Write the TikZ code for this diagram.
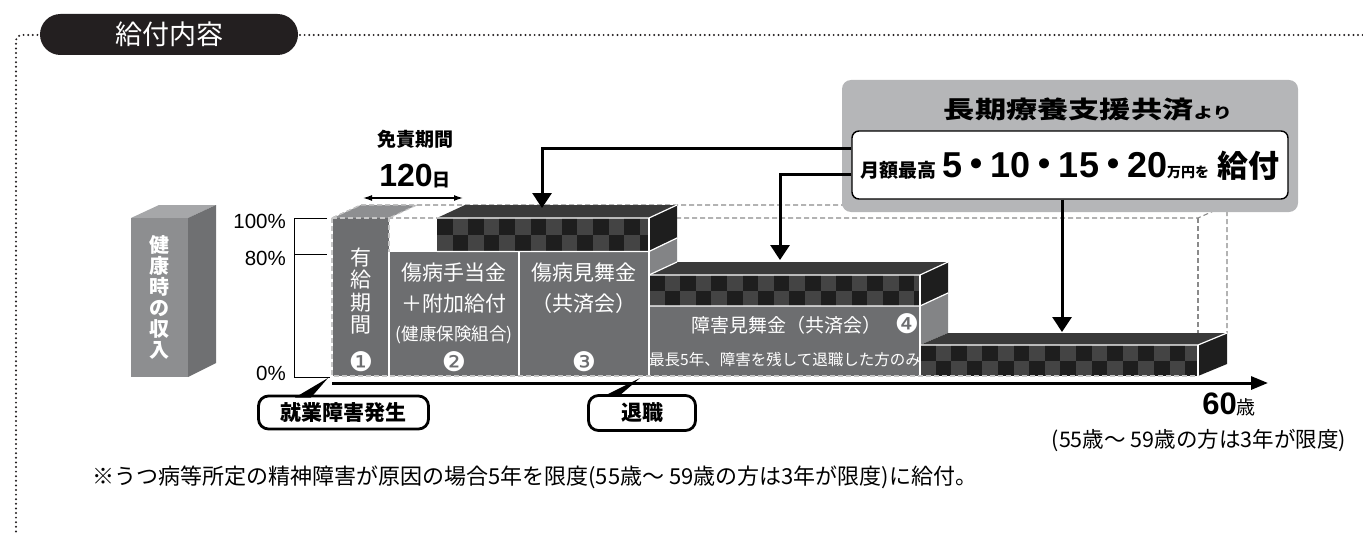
\documentclass[tikz,border=0pt]{standalone}
\usepackage{fontspec}
\setmainfont{Liberation Sans}
\newfontfamily\jp{Noto Sans CJK JP}
\newfontfamily\dv{DejaVu Sans}
\usetikzlibrary{arrows.meta}
\newcommand\myfs[1]{\fontsize{#1}{#1}\selectfont}
\newcommand\mdot{\kern-4pt{\jp ・}\kern-4pt}
\definecolor{hdr}{HTML}{231F20}
\definecolor{gblk}{HTML}{6D6E70}
\definecolor{gside}{HTML}{838486}
\definecolor{gtopa}{HTML}{8E8F91}
\definecolor{bandtop}{HTML}{3A3A3A}
\definecolor{bandside}{HTML}{1E1E1E}
\definecolor{chkA}{HTML}{1E1E1E}
\definecolor{chkB}{HTML}{444444}
\definecolor{callbg}{HTML}{B5B6B8}
\definecolor{lfront}{HTML}{8D8E90}
\definecolor{lside}{HTML}{6F7072}
\definecolor{ltop}{HTML}{A6A7A9}
\definecolor{dashc}{HTML}{8A8A8A}
\newcommand\checker[4]{%
  \begin{scope}
  \clip (#1,#2) rectangle (#3,#4);
  \fill[chkB] (#1,#2) rectangle (#3,#4);
  \pgfmathsetmacro\ym{(#2+#4)/2}
  \foreach \i in {0,2,...,20} {\fill[chkA] ({#1+\i*15.6},#2) rectangle ({#1+(\i+1)*15.6},\ym);}
  \foreach \i in {1,3,...,21} {\fill[chkA] ({#1+\i*15.6},\ym) rectangle ({#1+(\i+1)*15.6},#4);}
  \end{scope}}
\tikzset{
  dotline/.style={draw=hdr, line width=2.2pt, dash pattern=on 0pt off 4.6pt, line cap=round},
  dashbox/.style={draw=dashc, line width=1.1pt, dash pattern=on 5pt off 3pt},
  wl/.style={draw=white, line width=1.2pt},
  wtxt/.style={text=white, inner sep=0},
  circnum/.style={text=white, inner sep=0, font=\dv\myfs{27}},
  arr/.style={line width=3pt, -{Triangle[width=19pt,length=15pt]}},
  evbox/.style={draw=black, line width=2.8pt, rounded corners=10pt, fill=white, inner sep=0, font=\jp\bfseries\myfs{21}},
}
\begin{document}
\begin{tikzpicture}[x=1pt,y=-1pt]
\useasboundingbox (0,0) rectangle (1363,535);
% header
\draw[dotline] (300,35) -- (1363,35);
\draw[dotline, rounded corners=6pt] (42,35) -- (16,35) -- (16,535);
\node[fill=hdr, rounded corners=20.5pt, minimum width=258pt, minimum height=41pt, inner sep=0, text=white, font=\jp\myfs{27}] (hd) at (169,34.5) {給付内容};
% left 3D box
\fill[ltop] (131,218) -- (159,205) -- (216,205) -- (188,218) -- cycle;
\fill[lside] (188,218) -- (216,205) -- (216,363) -- (188,377) -- cycle;
\fill[lfront] (131,218) rectangle (188,377);
\node[wtxt, align=center, font=\jp\bfseries\fontsize{20}{21}\selectfont] (lbl) at (159.5,297) {健\\康\\時\\の\\収\\入};
% percent scale
\node[anchor=east, inner sep=0, font=\myfs{20.5}] (p100) at (286,221) {100\%};
\node[anchor=east, inner sep=0, font=\myfs{20.5}] (p80) at (286,258) {80\%};
\node[anchor=east, inner sep=0, font=\myfs{20.5}] (p0) at (286,373) {0\%};
\draw[line width=1pt] (327,218) -- (294,218) -- (294,377) -- (330,377);
\draw[line width=1pt] (294,254) -- (327,254);
% 120 days
\node[inner sep=0, font=\jp\bfseries\myfs{19}] (mk) at (415,139) {免責期間};
\node[inner sep=0] (d120) at (415,176) {{\bfseries\myfs{32}120}{\jp\bfseries\myfs{18}日}};
\coordinate (da1) at (363,198);
\coordinate (da2) at (463,198);
\draw[{Latex[length=9pt,width=6pt]}-{Latex[length=9pt,width=6pt]}, line width=1.3pt] (da1) -- (da2);
% dashed 100% box (back)
\draw[dashbox] (332,218) -- (361,205) -- (1227,205) -- (1227,333);
\draw[dashbox] (332,218) -- (1198,218) -- (1227,205);
\draw[dashbox] (1198,218) -- (1198,345);
% block 1
\fill[gtopa] (333,218) -- (361,205) -- (417,205) -- (389,218) -- cycle;
\fill[gblk] (333,218) rectangle (389,376);
% blocks 2,3
\fill[gblk] (389,252) rectangle (649,376);
% band A
\checker{437}{218}{649}{251}
\fill[bandtop] (437,218) -- (465,205) -- (677,205) -- (649,218) -- cycle;
\fill[bandside] (649,218) -- (677,205) -- (677,238) -- (649,251) -- cycle;
\fill[gside] (649,251) -- (677,238) -- (677,262) -- (649,275) -- cycle;
% block 4
\fill[gblk] (649,306) rectangle (920,376);
\checker{649}{275}{920}{306}
\fill[bandtop] (649,275) -- (677,262) -- (948,262) -- (920,275) -- cycle;
\fill[bandside] (920,275) -- (948,262) -- (948,293) -- (920,306) -- cycle;
\fill[gside] (920,306) -- (948,293) -- (948,333) -- (920,345) -- cycle;
% block 5
\checker{920}{345}{1198}{376}
\fill[bandtop] (920,345) -- (948,333) -- (1227,333) -- (1198,345) -- cycle;
\fill[bandside] (1198,345) -- (1227,333) -- (1227,364) -- (1198,376) -- cycle;
% white edges
\draw[wl] (389,252) -- (389,376);
\draw[wl] (519,252) -- (519,376);
\draw[wl] (437,218) -- (649,218) -- (677,205);
\draw[wl] (437,251.5) -- (649,251.5) -- (677,238);
\draw[wl] (649,218) -- (649,376);
\draw[wl] (649,275) -- (677,262);
\draw[wl] (649,275) -- (920,275) -- (948,262);
\draw[wl] (649,306) -- (920,306) -- (948,293);
\draw[wl] (920,275) -- (920,376);
\draw[wl] (920,345) -- (1198,345) -- (1227,333);
\draw[wl] (1198,345) -- (1198,376);
% dashed overlay (front)
\draw[dashbox, draw=white!78!black] (332,218) -- (332,376) -- (1198,376);
\draw[dashbox, draw=white!78!black] (332,218) -- (389,218) -- (389,252);
\draw[dashbox, draw=white!78!black] (332,218) -- (361,205) -- (417,205) -- (389,218);
% block texts
\node[wtxt, align=center, font=\jp\fontsize{21}{22.5}\selectfont] (b1t) at (361,291) {有\\給\\期\\間};
\node[circnum] (n1) at (361,362) {❶};
\node[wtxt, font=\jp\myfs{21}] (b2a) at (454,273) {傷病手当金};
\node[wtxt, font=\jp\myfs{21}] (b2b) at (454,304) {＋附加給付};
\node[wtxt, font=\jp\myfs{17.5}] (b2c) at (454,335) {(健康保険組合)};
\node[circnum] (n2) at (454,362) {❷};
\node[wtxt, font=\jp\myfs{21}] (b3a) at (584,273) {傷病見舞金};
\node[wtxt, font=\jp\myfs{21}] (b3b) at (584,304) {（共済会）};
\node[circnum] (n3) at (584,362) {❸};
\node[wtxt, font=\jp\myfs{19}] (b4a) at (786,325) {障害見舞金（共済会）};
\node[circnum] (n4) at (907,324) {❹};
\node[wtxt, font=\jp\myfs{15.5}] (b4b) at (785,360) {最長5年、障害を残して退職した方のみ};
% axis
\coordinate (axs) at (332,383);
\coordinate (axe) at (1268,383);
\draw[line width=3pt, -{Triangle[width=13pt,length=17pt]}] (axs) -- (axe);
% callout
\node[fill=callbg, rounded corners=9pt, minimum width=456pt, minimum height=132pt, inner sep=0] (callout) at (1070,146) {};
\node[inner sep=0] (ttl) at (1088,109) {\scalebox{1.3}[1]{\jp\bfseries\myfs{24}長期療養支援共済\myfs{15}より}};
\node[draw=black, fill=white, line width=1.4pt, rounded corners=7pt, minimum width=436pt, minimum height=68pt, inner sep=0] (inner) at (1070,165) {};
\node[inner sep=0] (itx) at (1070,166) {{\jp\bfseries\myfs{19}月額最高}\hspace{6pt}{\bfseries\myfs{36}5\mdot 10\mdot 15\mdot 20}{\jp\bfseries\myfs{14}万円を}\hspace{8pt}{\jp\bfseries\myfs{31}給付}};
% arrows from callout
\coordinate (t1) at (542,208);
\coordinate (t2) at (780,260);
\coordinate (t3) at (1062,332);
\draw[arr] ([yshift=17pt]inner.west) -| (t1);
\draw[arr] ([yshift=-9pt]inner.west) -| (t2);
\draw[arr] ([xshift=-8pt]inner.south) -- (t3);
% event labels
\node[evbox, minimum width=170pt, minimum height=33pt] (occ) at (343.5,412.5) {就業障害発生};
\coordinate (occtip) at (328,378);
\fill[black] (295,397.5) -- (occtip) -- (311,397.5) -- cycle;
\node[evbox, minimum width=107pt, minimum height=35pt] (ret) at (642,413) {退職};
\coordinate (rettip) at (640,378);
\fill[black] (604,396) -- (rettip) -- (619,396) -- cycle;
% age
\node[anchor=base east, inner sep=0] (age) at (1256,414) {{\bfseries\myfs{31}60}{\jp\myfs{19}歳}};
\node[anchor=east, inner sep=0, font=\jp\myfs{21.5}] (note) at (1346,441) {(55歳～ 59歳の方は3年が限度)};
% footnote
\node[anchor=west, inner sep=0, font=\jp\myfs{22}] (fn) at (92,477) {※うつ病等所定の精神障害が原因の場合5年を限度(55歳～ 59歳の方は3年が限度)に給付。};
\end{tikzpicture}
\end{document}
